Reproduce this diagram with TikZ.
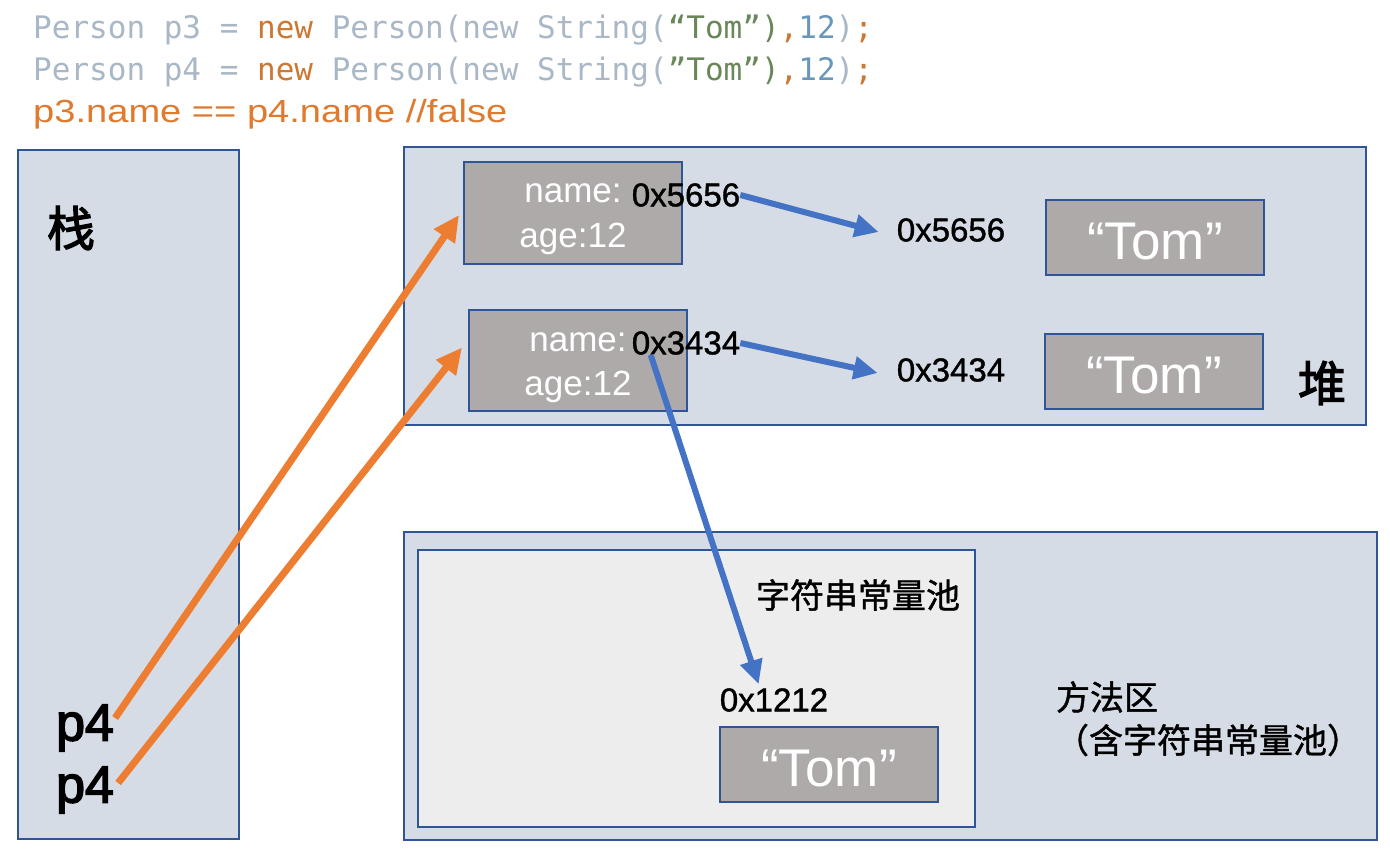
\documentclass[tikz,border=0pt]{standalone}
\usepackage{fontspec}
\setmainfont{Liberation Sans}
\newfontfamily\cjk{Noto Sans CJK SC}
\newfontfamily\cjkm[FakeBold=1.2]{Noto Sans CJK SC}
\newfontfamily\cjkb[FakeBold=2.5]{Noto Sans CJK SC}
\newfontfamily\semib[FakeBold=1.2]{Liberation Sans}
\newfontfamily\pfont[FakeBold=3]{Liberation Sans}
\newfontfamily\codefont{DejaVu Sans Mono}
\usetikzlibrary{arrows.meta,calc}
\definecolor{areafill}{HTML}{D6DCE5}
\definecolor{areaedge}{HTML}{2F5597}
\definecolor{objfill}{HTML}{AEAAAA}
\definecolor{poolfill}{HTML}{EDEDED}
\definecolor{orangeline}{HTML}{ED7D31}
\definecolor{blueline}{HTML}{4472C4}
\definecolor{cdef}{HTML}{A9B7C6}
\definecolor{ckw}{HTML}{CC7832}
\definecolor{cstr}{HTML}{6A8759}
\definecolor{cnum}{HTML}{6897BB}
\definecolor{cline}{HTML}{E07A2E}
\tikzset{
  area/.style={draw=areaedge, line width=2pt, fill=areafill, inner sep=0pt},
  pool/.style={draw=areaedge, line width=2pt, fill=poolfill, inner sep=0pt},
  obj/.style={draw=areaedge, line width=2pt, fill=objfill, inner sep=0pt, minimum width=218pt},
  wtext/.style={text=white, inner sep=0pt, font=\fontsize{35}{38}\selectfont},
  tomtext/.style={text=white, inner sep=0pt, font=\fontsize{53}{58}\selectfont},
  addr/.style={text=black, inner sep=0pt, font=\semib\fontsize{33}{36}\selectfont},
  cjklabel/.style={text=black, inner sep=0pt, font=\cjkb\fontsize{48}{52}\selectfont},
  cjksmall/.style={text=black, inner sep=0pt, font=\cjkm\fontsize{34}{38}\selectfont},
  pvar/.style={text=black, inner sep=0pt, font=\pfont\fontsize{52}{56}\selectfont},
  codeline/.style={inner sep=0pt, anchor=west, font=\codefont\fontsize{31}{36}\selectfont},
  oarrow/.style={draw=orangeline, line width=7pt, -{Triangle[length=26pt,width=24pt]}},
  barrow/.style={draw=blueline, line width=6pt, -{Triangle[length=24pt,width=22pt]}},
}
\begin{document}
\begin{tikzpicture}[x=1pt,y=-1pt]
\useasboundingbox[fill=white] (0,0) rectangle (1390,851);
% code
\node[codeline] (code1) at (33,30) {\color{cdef}Person p3 = \textcolor{ckw}{new} Person(new String(\textcolor{cstr}{“Tom”)}\textcolor{ckw}{,}\textcolor{cnum}{12})\textcolor{ckw}{;}};
\node[codeline] (code2) at (33,72) {\color{cdef}Person p4 = \textcolor{ckw}{new} Person(new String(\textcolor{cstr}{”Tom”)}\textcolor{ckw}{,}\textcolor{cnum}{12})\textcolor{ckw}{;}};
\node[inner sep=0pt, anchor=west, text=cline, font=\fontsize{32}{36}\selectfont, xscale=1.19] (code3) at (33,114) {p3.name == p4.name //false};
% areas
\node[area, minimum width=221pt, minimum height=689pt] (stack) at (128.5,494.5) {};
\node[area, minimum width=962pt, minimum height=278pt] (heap) at (885,286) {};
\node[area, minimum width=973pt, minimum height=308pt] (method) at (890.5,686) {};
\node[pool, minimum width=557pt, minimum height=277pt] (poolbox) at (696.5,688.5) {};
% objects
\node[obj, minimum height=102pt] (obj1) at (573,213) {};
\node[obj, minimum height=101pt] (obj2) at (578,360.5) {};
\node[obj, minimum height=75pt] (tom1) at (1155,237.5) {};
\node[obj, minimum height=75pt] (tom2) at (1154,371.5) {};
\node[obj, minimum height=75pt] (tom3) at (829,764.5) {};
\node[tomtext] (tomt1) at ($(tom1.center)+(0,4)$) {“Tom”};
\node[tomtext] (tomt2) at ($(tom2.center)+(0,4)$) {“Tom”};
\node[tomtext] (tomt3) at ($(tom3.center)+(0,4)$) {“Tom”};
% object texts
\node[wtext] (name1) at (573,193) {name:};
\node[wtext] (age1) at (573,239) {age:12};
\node[addr] (addr1) at (686,195) {0x5656};
\node[wtext] (name2) at (578,342) {name:};
\node[wtext] (age2) at (578,387) {age:12};
\node[addr] (addr2) at (686,343) {0x3434};
% address labels
\node[addr] (lab1) at (951,230) {0x5656};
\node[addr] (lab2) at (951,370) {0x3434};
\node[addr] (lab3) at (774,700) {0x1212};
% region labels
\node[cjklabel] (stacklab) at (71,228) {栈};
\node[cjklabel] (heaplab) at (1322,383) {堆};
\node[cjksmall] (poollab) at (858,595) {字符串常量池};
\node[cjksmall] (methlab) at (1107,697) {方法区};
\node[cjksmall] (methsub) at (1208,740) {（含字符串常量池）};
% stack vars
\node[pvar] (p4a) at (85,728) {p4};
\node[pvar] (p4b) at (85,790) {p4};
% arrows
\draw[oarrow] ($(p4a.east)+(1,-10)$) -- ($(obj1.west)+(-4,2)$);
\draw[oarrow] ($(p4b.east)+(4,-7)$) -- ($(obj2.west)+(-6,-13)$);
\draw[barrow] (addr1.east) -- ($(lab1.west)+(-18,2)$);
\draw[barrow] (addr2.east) -- ($(lab2.west)+(-19,3)$);
\draw[barrow] ($(addr2.south west)+(19,0)$) -- ($(lab3.north west)+(39,-4)$);
\end{tikzpicture}
\end{document}
